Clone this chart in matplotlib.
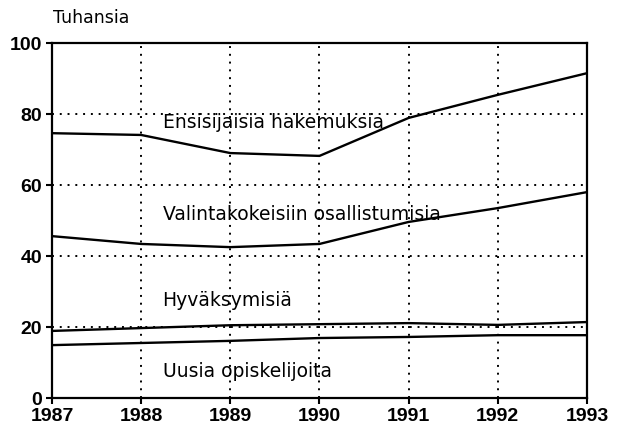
import matplotlib
matplotlib.use('Agg')
import matplotlib.pyplot as plt

# Data (thousands)
years = [1987, 1988, 1989, 1990, 1991, 1992, 1993]
ensisijaisia = [74.6, 74.1, 69.0, 68.2, 78.9, 85.4, 91.5]
valintakokeisiin = [45.6, 43.4, 42.5, 43.4, 49.6, 53.5, 58.0]
hyvaksymisia = [18.9, 19.7, 20.5, 20.8, 21.1, 20.6, 21.4]
uusia = [14.9, 15.5, 16.1, 16.9, 17.2, 17.7, 17.7]

labels = ['Ensisijaisia hakemuksia', 'Valintakokeisiin osallistumisia',
          'Hyväksymisiä', 'Uusia opiskelijoita']
label_y = [77.5, 51.8, 27.6, 7.6]

plt.rcParams['font.family'] = ['Liberation Sans', 'DejaVu Sans']

fig = plt.figure(figsize=(6.21, 4.34), dpi=100)
fig.patch.set_facecolor('white')
ax = fig.add_axes([0.0837, 0.0829, 0.8615, 0.818])

for series in [ensisijaisia, valintakokeisiin, hyvaksymisia, uusia]:
    ax.plot(years, series, color='black', linewidth=1.7, zorder=3)

# labels inside the plot
for text, y in zip(labels, label_y):
    ax.text(1988.24, y, text, fontsize=13.5, va='center', ha='left',
            color='black', family='DejaVu Sans', zorder=4)

ax.set_xlim(1987, 1993)
ax.set_ylim(0, 100)
ax.set_xticks(years)
ax.set_yticks([0, 20, 40, 60, 80, 100])
ax.tick_params(axis='both', direction='out', length=4, width=1.5, labelsize=14, pad=3)
for lbl in ax.get_xticklabels() + ax.get_yticklabels():
    lbl.set_fontweight('bold')

ax.grid(True, linestyle=(0, (1, 3)), color='black', linewidth=1.4)
for s in ax.spines.values():
    s.set_linewidth(1.6)

fig.text(53 / 621, 1 - 18 / 434, 'Tuhansia', fontsize=12.5, va='center', ha='left',
         family='DejaVu Sans')

fig.savefig('out.png', dpi=100, facecolor='white')
